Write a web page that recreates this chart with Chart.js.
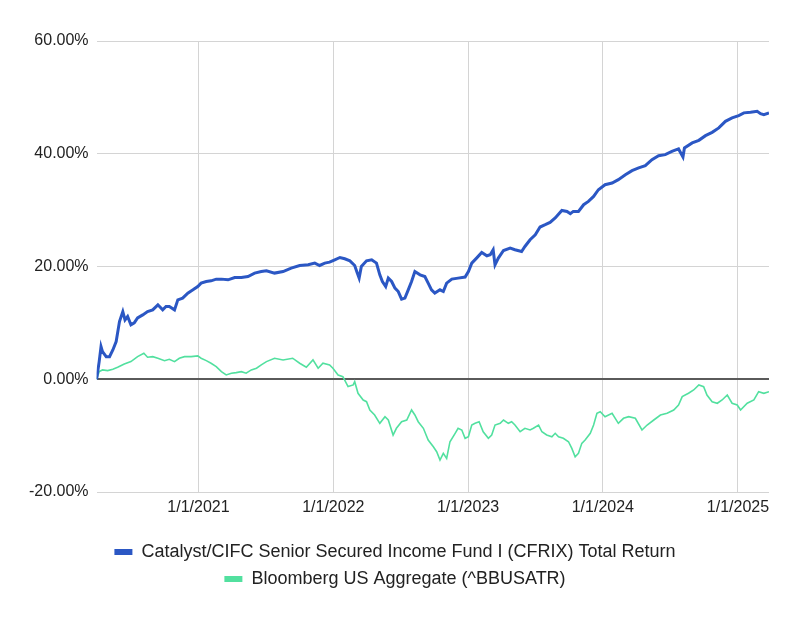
<!DOCTYPE html>
<html><head><meta charset="utf-8">
<script src="https://cdn.jsdelivr.net/npm/chart.js@4"></script>
<style>html,body{margin:0;padding:0;background:#fff}#wrap{width:800px;height:619px}</style>
</head><body><div id="wrap"><canvas id="c" width="800" height="619"></canvas></div>
<script>
const seriesNames = ['Catalyst/CIFC Senior Secured Income Fund I (CFRIX) Total Return', 'Bloomberg US Aggregate (^BBUSATR)'];

const cfrixDates = [
'2020-03-31','2020-04-07','2020-04-12','2020-04-16','2020-04-26','2020-05-05','2020-05-14','2020-05-23','2020-06-01','2020-06-10',
'2020-06-16','2020-06-23','2020-07-02','2020-07-11','2020-07-20','2020-08-03','2020-08-16','2020-08-30','2020-09-13','2020-09-26',
'2020-10-05','2020-10-14','2020-10-28','2020-11-06','2020-11-19','2020-12-03','2020-12-17','2020-12-30','2021-01-08','2021-01-22',
'2021-02-04','2021-02-18','2021-03-04','2021-03-22','2021-04-09','2021-04-27','2021-05-15','2021-06-02','2021-06-20','2021-07-04',
'2021-07-26','2021-08-18','2021-09-09','2021-10-02','2021-10-25','2021-11-12','2021-11-25','2021-12-09','2021-12-22','2022-01-05',
'2022-01-19','2022-02-01','2022-02-15','2022-02-28','2022-03-07','2022-03-12','2022-03-18','2022-04-01','2022-04-15','2022-04-28',
'2022-05-07','2022-05-14','2022-05-23','2022-05-30','2022-06-08','2022-06-17','2022-06-26','2022-07-05','2022-07-14','2022-07-23',
'2022-08-01','2022-08-10','2022-08-24','2022-09-06','2022-09-15','2022-09-24','2022-10-03','2022-10-17','2022-10-26','2022-11-04',
'2022-11-18','2022-12-05','2022-12-24','2023-01-02','2023-01-11','2023-01-24','2023-02-07','2023-02-21','2023-03-02','2023-03-10',
'2023-03-15','2023-03-24','2023-04-07','2023-04-25','2023-05-08','2023-05-26','2023-06-04','2023-06-18','2023-07-02','2023-07-15',
'2023-07-29','2023-08-11','2023-08-25','2023-09-12','2023-09-26','2023-10-05','2023-10-13','2023-10-27','2023-11-10','2023-11-23',
'2023-12-07','2023-12-20','2024-01-07','2024-01-26','2024-02-12','2024-03-02','2024-03-20','2024-04-07','2024-04-25','2024-05-13',
'2024-05-31','2024-06-18','2024-07-06','2024-07-24','2024-08-05','2024-08-09','2024-08-30','2024-09-17','2024-10-05','2024-10-23',
'2024-11-10','2024-11-28','2024-12-16','2025-01-03','2025-01-17','2025-02-04','2025-02-22','2025-03-03','2025-03-12','2025-03-26'
];
const cfrixValues = [
0, 3.13, 5.79, 4.9, 4.01, 4.01, 5.2, 6.68, 10.23, 12.0,
10.53, 11.12, 9.64, 10.0, 10.89, 11.42, 12.0, 12.31, 13.2, 12.31,
12.9, 12.9, 12.31, 14.09, 14.39, 15.28, 15.86, 16.45, 17.05, 17.34,
17.46, 17.76, 17.76, 17.64, 18.05, 18.05, 18.22, 18.83, 19.11, 19.24,
18.83, 19.11, 19.72, 20.18, 20.3, 20.6, 20.18, 20.6, 20.78, 21.19,
21.6, 21.37, 21.01, 20.18, 18.83, 17.94, 20.0, 21.01, 21.19, 20.6,
18.53, 17.34, 16.45, 17.94, 17.34, 16.16, 15.56, 14.21, 14.39, 15.86,
17.34, 19.11, 18.53, 18.22, 17.05, 15.86, 15.28, 15.86, 15.56, 17.05,
17.76, 17.94, 18.12, 19.11, 20.6, 21.49, 22.49, 21.9, 22.08, 22.97,
20.3, 21.49, 22.84, 23.27, 22.97, 22.66, 23.55, 24.74, 25.63, 27.0,
27.41, 27.82, 28.6, 29.95, 29.77, 29.36, 29.77, 29.77, 30.96, 31.55,
32.43, 33.62, 34.51, 34.81, 35.4, 36.29, 37.0, 37.48, 37.89, 38.95,
39.66, 39.84, 40.43, 40.85, 39.43, 41.03, 41.92, 42.38, 43.21, 43.8,
44.58, 45.75, 46.36, 46.77, 47.25, 47.35, 47.53, 47.12, 46.94, 47.25
];

const aggDates = [
'2020-03-31','2020-04-07','2020-04-16','2020-04-30','2020-05-14','2020-05-27','2020-06-14','2020-07-02','2020-07-20','2020-08-06',
'2020-08-16','2020-08-30','2020-09-13','2020-10-01','2020-10-14','2020-10-28','2020-11-10','2020-11-24','2020-12-12','2020-12-30',
'2021-01-08','2021-01-22','2021-02-04','2021-02-18','2021-03-04','2021-03-17','2021-03-31','2021-04-13','2021-04-27','2021-05-10',
'2021-05-24','2021-06-07','2021-06-20','2021-07-04','2021-07-26','2021-08-18','2021-09-13','2021-10-02','2021-10-20','2021-11-07',
'2021-11-21','2021-12-04','2021-12-22','2021-12-31','2022-01-14','2022-01-27','2022-02-10','2022-02-24','2022-02-28','2022-03-09',
'2022-03-23','2022-04-01','2022-04-10','2022-04-23','2022-05-07','2022-05-21','2022-05-30','2022-06-12','2022-06-21','2022-07-05',
'2022-07-19','2022-08-01','2022-08-10','2022-08-19','2022-09-02','2022-09-15','2022-09-29','2022-10-08','2022-10-17','2022-10-26',
'2022-11-04','2022-11-13','2022-11-27','2022-12-05','2022-12-15','2022-12-24','2023-01-02','2023-01-11','2023-01-20','2023-01-31',
'2023-02-11','2023-02-25','2023-03-06','2023-03-15','2023-03-29','2023-04-07','2023-04-20','2023-04-29','2023-05-08','2023-05-22',
'2023-06-04','2023-06-18','2023-06-27','2023-07-11','2023-07-20','2023-08-02','2023-08-16','2023-08-25','2023-09-03','2023-09-16',
'2023-09-30','2023-10-09','2023-10-18','2023-10-27','2023-11-05','2023-11-14','2023-11-28','2023-12-07','2023-12-16','2023-12-25',
'2024-01-07','2024-01-26','2024-02-12','2024-02-26','2024-03-11','2024-03-29','2024-04-16','2024-04-30','2024-05-18','2024-06-05',
'2024-06-23','2024-07-11','2024-07-24','2024-08-03','2024-08-20','2024-09-03','2024-09-17','2024-09-30','2024-10-09','2024-10-23',
'2024-11-06','2024-11-19','2024-12-03','2024-12-16','2024-12-30','2025-01-08','2025-01-26','2025-02-13','2025-02-26','2025-03-12','2025-03-26'
];
const aggValues = [
0, 1.35, 1.65, 1.53, 1.78, 2.13, 2.72, 3.13, 4.01, 4.62,
3.91, 4.01, 3.73, 3.3, 3.55, 3.13, 3.73, 4.01, 4.01, 4.14,
3.73, 3.3, 2.84, 2.24, 1.35, 0.76, 1.07, 1.17, 1.35, 1.07,
1.65, 1.95, 2.54, 3.13, 3.73, 3.43, 3.73, 2.84, 2.13, 3.43,
1.95, 2.84, 2.54, 1.95, 0.76, 0.46, -1.31, -1.01, -0.43, -2.49,
-3.68, -3.98, -5.45, -6.34, -7.82, -6.64, -7.23, -9.89, -8.7, -7.53,
-7.23, -5.45, -6.34, -7.53, -8.7, -10.78, -11.97, -12.86, -14.33, -13.14,
-14.03, -11.08, -9.59, -8.7, -9.0, -10.48, -10.2, -8.12, -7.82, -7.53,
-9.31, -10.48, -9.89, -8.12, -7.82, -7.23, -7.82, -7.53, -8.12, -9.31,
-8.7, -9.0, -8.7, -8.12, -9.31, -9.89, -10.2, -9.59, -10.2, -10.48,
-11.08, -12.26, -13.75, -13.14, -11.37, -10.78, -9.59, -8.12, -6.04, -5.75,
-6.64, -6.04, -7.82, -6.93, -6.64, -6.93, -9.0, -8.12, -7.23, -6.34,
-6.04, -5.45, -4.56, -3.09, -2.49, -1.9, -1.01, -1.31, -2.79, -3.98,
-4.26, -3.68, -2.79, -4.26, -4.56, -5.45, -4.26, -3.68, -2.2, -2.49, -2.2
];

const xTickDates = ['2021-01-01','2022-01-01','2023-01-01','2024-01-01','2025-01-01'];
const yTickValues = [-20, 0, 20, 40, 60];

const DAY = 86400000;
function dayNum(s){ const p = s.split('-').map(Number); return Date.UTC(p[0], p[1]-1, p[2]) / DAY; }
function dateLabel(n){ const d = new Date(n * DAY); return (d.getUTCMonth()+1) + '/' + d.getUTCDate() + '/' + d.getUTCFullYear(); }
function toPoints(ds, vs){ return ds.map((d, i) => ({x: dayNum(d), y: vs[i]})); }

const FONT = "'Liberation Sans', Arial, Helvetica, sans-serif";
const BLUE = '#2b57c4';
const GREEN = '#52e09f';

new Chart(document.getElementById('c'), {
  type: 'line',
  data: {
    datasets: [
      { label: seriesNames[0], data: toPoints(cfrixDates, cfrixValues), borderColor: BLUE, backgroundColor: BLUE, borderWidth: 3, pointRadius: 0, tension: 0, fill: false },
      { label: seriesNames[1], data: toPoints(aggDates, aggValues), borderColor: GREEN, backgroundColor: GREEN, borderWidth: 1.6, pointRadius: 0, tension: 0, fill: false }
    ]
  },
  options: {
    responsive: false,
    animation: false,
    devicePixelRatio: 1,
    layout: { padding: { left: 21, right: 31, top: 41, bottom: 21 } },
    scales: {
      x: {
        type: 'linear',
        min: dayNum(cfrixDates[0]),
        max: dayNum(cfrixDates[cfrixDates.length - 1]),
        afterBuildTicks: (s) => { s.ticks = xTickDates.map(d => ({ value: dayNum(d) })); },
        ticks: { autoSkip: false, maxRotation: 0, padding: 0, color: '#222', font: { family: FONT, size: 16, lineHeight: 2 }, callback: (v) => dateLabel(v) },
        title: { display: true, text: '', padding: 0, font: { family: FONT, size: 10, lineHeight: 1 } },
        grid: { color: '#d4d4d4', lineWidth: 1, drawTicks: false },
        border: { display: false }
      },
      y: {
        min: -20, max: 60,
        afterBuildTicks: (s) => { s.ticks = yTickValues.map(v => ({ value: v })); },
        ticks: { padding: 8, color: '#222', font: { family: FONT, size: 16 }, callback: (v) => v.toFixed(2) + '%' },
        grid: {
          drawTicks: false,
          color: (c) => (c.tick && c.tick.value === 0) ? '#5a5a5a' : '#d4d4d4',
          lineWidth: (c) => (c.tick && c.tick.value === 0) ? 2 : 1
        },
        border: { display: false }
      }
    },
    plugins: {
      tooltip: { enabled: false },
      legend: {
        position: 'bottom',
        labels: {
          boxWidth: 18, boxHeight: 6, padding: 9, color: '#222',
          font: { family: FONT, size: 18 },
          generateLabels: (chart) => Chart.defaults.plugins.legend.labels.generateLabels(chart).map(l => Object.assign(l, { lineWidth: 0 }))
        }
      }
    }
  }
});
</script>
</body></html>
